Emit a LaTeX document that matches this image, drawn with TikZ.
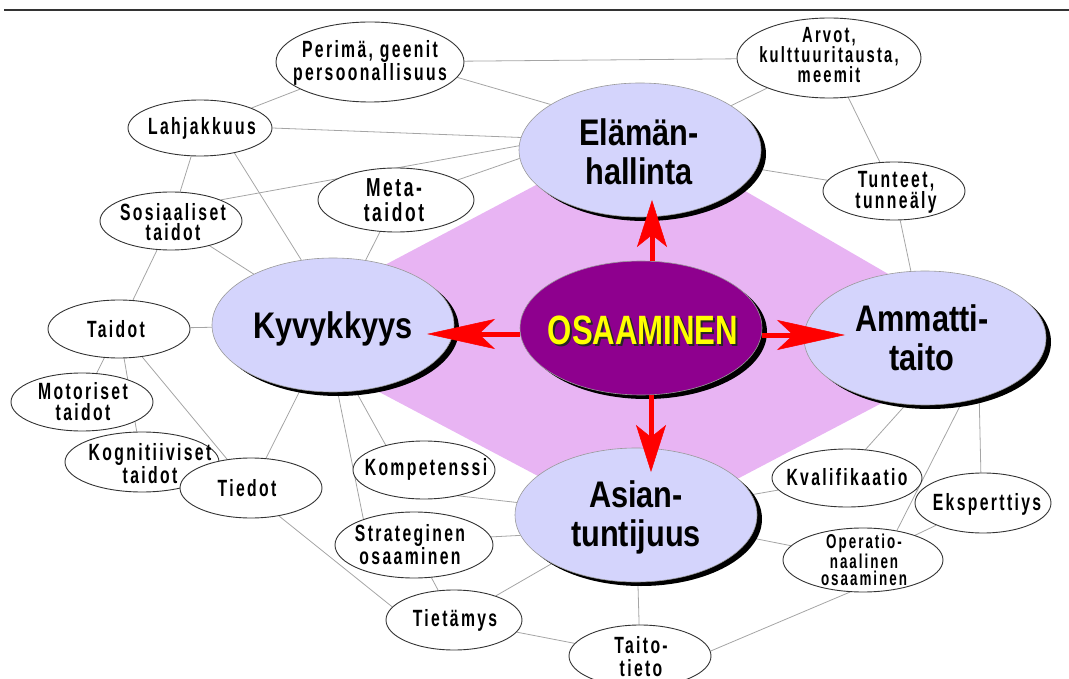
\documentclass[tikz,border=0pt]{standalone}
\usepackage{fontspec}
\usetikzlibrary{shapes.geometric,arrows.meta,shadows}
\newfontfamily\bigf[FakeStretch=0.83]{Liberation Sans}
\newfontfamily\osaf[FakeStretch=0.76]{Liberation Sans}
\newfontfamily\smf[FakeStretch=0.67,LetterSpace=10]{Liberation Sans}
\definecolor{lav}{RGB}{212,212,252}
\definecolor{pinkd}{RGB}{232,180,243}
\definecolor{purp}{RGB}{142,0,142}
\definecolor{conncol}{RGB}{165,165,165}
\definecolor{osayel}{RGB}{255,255,0}
\pgfdeclarelayer{bg}
\pgfsetlayers{bg,main}
\tikzset{
  bignode/.style={ellipse, fill=lav, draw=black!40, line width=0.6pt, inner sep=0pt,
    minimum width=242pt, minimum height=134pt,
    drop shadow={shadow xshift=5pt, shadow yshift=-4pt, fill=black, opacity=1}},
  bigtxt/.style={font=\bigf\bfseries\fontsize{37}{39}\selectfont, align=center, inner sep=0pt},
  smnode/.style={ellipse, fill=white, draw=black!80, line width=0.9pt, inner sep=0pt},
  smtxt/.style={font=\smf\bfseries\fontsize{23.5}{21}\selectfont, align=center, inner sep=0pt},
  connline/.style={draw=conncol, line width=0.8pt},
  redh/.style={draw=red, line width=5pt, -{Stealth[length=68pt, width=30pt, inset=16pt, line width=0.5pt]}},
  redv/.style={draw=red, line width=5pt, -{Stealth[length=47pt, width=30pt, inset=12pt, line width=0.5pt]}},
}
\begin{document}
\begin{tikzpicture}[x=1pt,y=-1pt]
\useasboundingbox (0,0) rectangle (1069,679);
\draw[line width=2.5pt, black!80] (4,10) -- (1069,10);

% big nodes
\node[bignode] (ela) at (640,150) {};
\node[bigtxt] (ela-t) at (639,152) {Elämän-\\hallinta};
\node[bignode] (kyv) at (333,325) {};
\node[bigtxt] (kyv-t) at (333,329) {Kyvykkyys};
\node[bignode] (amm) at (925,338) {};
\node[bigtxt] (amm-t) at (922,338) {Ammatti-\\taito};
\node[bignode] (asi) at (636,515) {};
\node[bigtxt] (asi-t) at (636,517) {Asian-\\tuntijuus};
\node[bignode, fill=purp] (osa) at (641,328) {};
\node[font=\osaf\bfseries\fontsize{41}{41}\selectfont, text=black!85, inner sep=0pt] (osa-s) at (645,332) {OSAAMINEN};
\node[font=\osaf\bfseries\fontsize{41}{41}\selectfont, text=osayel, inner sep=0pt] (osa-t) at (643,330) {OSAAMINEN};

% small nodes
\node[smnode, minimum width=188pt, minimum height=80pt] (per) at (370,62) {};
\node[smtxt] (per-t) at (370,63) {Perimä, geenit\\persoonallisuus};
\node[smnode, minimum width=184pt, minimum height=80pt] (arv) at (829,58) {};
\node[smtxt, font=\smf\bfseries\fontsize{22}{19}\selectfont] (arv-t) at (829,55) {Arvot,\\kulttuuritausta,\\meemit};
\node[smnode, minimum width=144pt, minimum height=56pt] (lah) at (200,128) {};
\node[smtxt] (lah-t) at (202,128) {Lahjakkuus};
\node[smnode, minimum width=156pt, minimum height=64pt] (met) at (396,200) {};
\node[smtxt, font=\smf\bfseries\fontsize{26}{25}\selectfont] (met-t) at (394,200) {Meta-\\taidot};
\node[smnode, minimum width=142pt, minimum height=58pt] (sos) at (171,221) {};
\node[smtxt, font=\smf\bfseries\fontsize{23.5}{20.5}\selectfont] (sos-t) at (173,222) {Sosiaaliset\\taidot};
\node[smnode, minimum width=142pt, minimum height=58pt] (tun) at (894,191) {};
\node[smtxt] (tun-t) at (896,192) {Tunteet,\\tunneäly};
\node[smnode, minimum width=142pt, minimum height=58pt] (tai) at (119,329) {};
\node[smtxt] (tai-t) at (116,329) {Taidot};
\node[smnode, minimum width=142pt, minimum height=58pt] (mot) at (82,402) {};
\node[smtxt] (mot-t) at (83,402) {Motoriset\\taidot};
\node[smnode, minimum width=154pt, minimum height=60pt] (kog) at (142,462) {};
\node[smtxt, font=\smf\bfseries\fontsize{23.5}{19}\selectfont] (kog-t) at (150,464) {Kognitiiviset\\taidot};
\node[smnode, minimum width=142pt, minimum height=60pt] (tie) at (251,488) {};
\node[smtxt] (tie-t) at (247,488) {Tiedot};
\node[smnode, minimum width=142pt, minimum height=58pt] (kom) at (424,470) {};
\node[smtxt] (kom-t) at (426,469) {Kompetenssi};
\node[smnode, minimum width=158pt, minimum height=66pt] (str) at (414,545) {};
\node[smtxt, font=\smf\bfseries\fontsize{23.5}{23}\selectfont] (str-t) at (410,545) {Strateginen\\osaaminen};
\node[smnode, minimum width=136pt, minimum height=60pt] (tiet) at (454,620) {};
\node[smtxt] (tiet-t) at (455,620) {Tietämys};
\node[smnode, minimum width=150pt, minimum height=58pt] (kva) at (847,478) {};
\node[smtxt] (kva-t) at (847,477) {Kvalifikaatio};
\node[smnode, minimum width=136pt, minimum height=60pt] (eks) at (983,503) {};
\node[smtxt] (eks-t) at (987,504) {Eksperttiys};
\node[smnode, minimum width=160pt, minimum height=64pt] (ope) at (863,560) {};
\node[smtxt, font=\smf\bfseries\fontsize{20}{17}\selectfont] (ope-t) at (864,560) {Operatio-\\naalinen\\osaaminen};
\node[smnode, minimum width=142pt, minimum height=62pt] (tt) at (640,656) {};
\node[smtxt, font=\smf\bfseries\fontsize{23.5}{23}\selectfont] (tt-t) at (641,657) {Taito-\\tieto};

\begin{pgfonlayer}{bg}
\fill[pinkd] (640,130) -- (1002,340) -- (640,530) -- (262,330) -- cycle;
\draw[connline] (per) -- (arv);
\draw[connline] (per) -- (lah);
\draw[connline] (per.-10) -- (ela.153);
\draw[connline] (lah.east) -- (ela.174);
\draw[connline] (lah) -- (sos);
\draw[connline] (lah.-36) -- (kyv.116);
\draw[connline] (sos.23) -- (ela.178);
\draw[connline] (met.18) -- (ela.-176);
\draw[connline] (met) -- (kyv);
\draw[connline] (arv) -- (ela);
\draw[connline] (arv) -- (tun);
\draw[connline] (ela) -- (tun);
\draw[connline] (tun) -- (amm);
\draw[connline] (sos) -- (tai);
\draw[connline] (sos) -- (kyv);
\draw[connline] (tai) -- (kyv);
\draw[connline] (tai) -- (mot);
\draw[connline] (tai) -- (kog);
\draw[connline] (tai) -- (tie);
\draw[connline] (kyv) -- (tie);
\draw[connline] (kyv.-86) -- (str.153);
\draw[connline] (kyv.-71) -- (kom.147);
\draw[connline] (kom.-37) -- (asi.174);
\draw[connline] (str.6) -- (asi.-170);
\draw[connline] (str) -- (tiet);
\draw[connline] (tiet) -- (asi);
\draw[connline] (tie.-45) -- (tiet.168);
\draw[connline] (tiet) -- (tt);
\draw[connline] (asi) -- (tt);
\draw[connline] (tt.4) -- (ope.-112);
\draw[connline] (asi) -- (ope);
\draw[connline] (asi) -- (kva);
\draw[connline] (amm.-106) -- (kva.57);
\draw[connline] (amm.-60) -- (ope.41);
\draw[connline] (amm.-48) -- (eks.94);
\draw[connline] (eks) -- (ope);
\end{pgfonlayer}

% arrows
\coordinate (tipL) at (427,334);
\coordinate (tipR) at (845,335);
\coordinate (tipU) at (652,200);
\coordinate (tipD) at (651,472);
\draw[redh] (osa.west |- tipL) -- (tipL);
\draw[redh] (osa.east |- tipR) -- (tipR);
\draw[redv] (tipU |- osa.north) -- (tipU);
\draw[redv] (tipD |- osa.south) -- (tipD);
\end{tikzpicture}
\end{document}
